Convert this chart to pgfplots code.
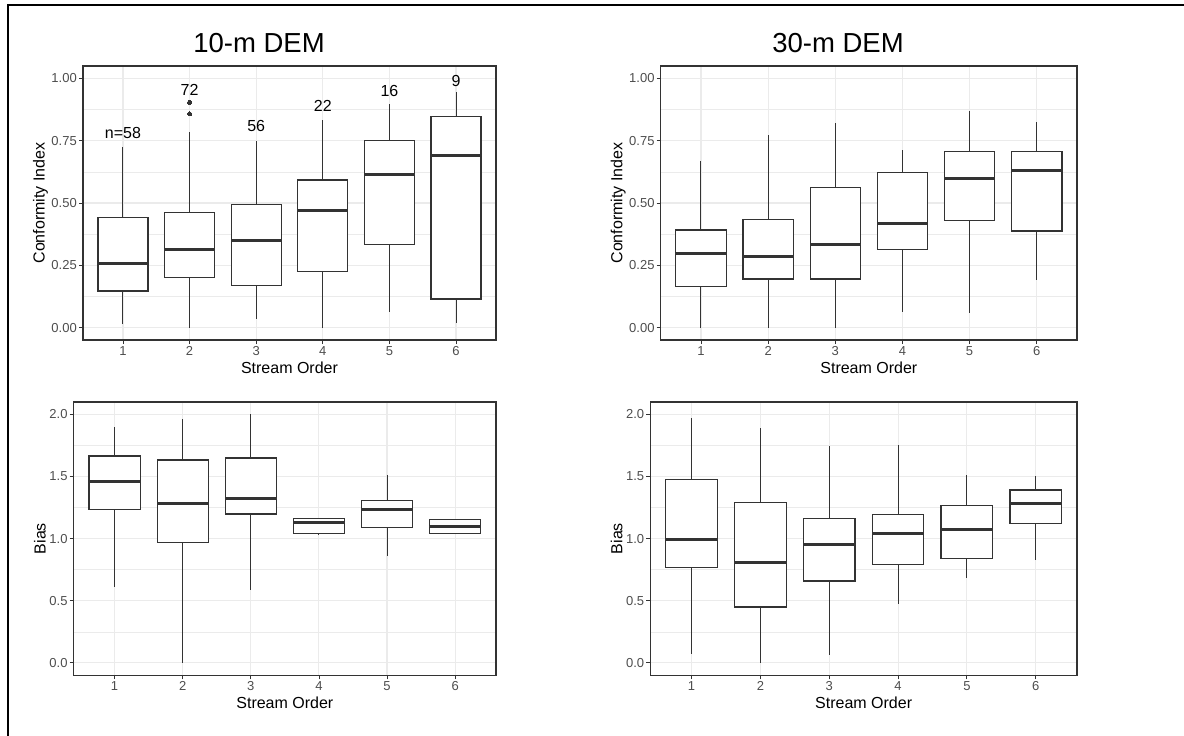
\documentclass[border=0pt]{standalone}
\usepackage{pgfplots}
\pgfplotsset{compat=1.18}
\usepgfplotslibrary{statistics}
\usepackage{fontspec}
\setmainfont{Liberation Sans}
\definecolor{gridc}{HTML}{EBEBEB}
\definecolor{boxc}{HTML}{333333}
\definecolor{tickc}{HTML}{4D4D4D}
\pgfplotsset{
  panel/.style={
    scale only axis,
    xmin=0.4, xmax=6.6,
    xtick={1,2,3,4,5,6},
    minor y tick num=1,
    xmajorgrids, ymajorgrids, yminorgrids,
    major grid style={gridc, line width=1.1pt},
    minor grid style={gridc, line width=0.6pt},
    tick pos=left, tick align=outside,
    major tick length=4pt, minor tick length=0pt,
    tick style={boxc, line width=0.8pt},
    axis line style={boxc, line width=1.2pt},
    /pgf/number format/assume math mode=true,
    ticklabel style={font=\fontsize{13}{13}\selectfont, text=tickc, inner sep=2pt},
    label style={font=\fontsize{16}{16}\selectfont},
    ylabel shift=-2pt,
    xlabel shift=1pt,
    xlabel={Stream Order},
    boxplot/draw direction=y,
    boxplot/box extend=0.75,
    boxplot/whisker extend=0,
    boxplot/every median/.style={line width=3pt},
    boxplot/every whisker/.style={line width=1pt},
    clip=false,
  },
  bx/.style={boxc, fill=white, line width=1.2pt, solid, mark=*, mark size=2pt, mark options={fill=boxc, draw=boxc, line width=0pt}},
}
\begin{document}
\begin{tikzpicture}
\path[use as bounding box] (0pt,0pt) rectangle (1184pt,-736pt);
\draw[black, line width=2pt] (7.5pt,-736pt) -- (7.5pt,-5pt) -- (1184pt,-5pt);
\node at (259pt,-43pt) {\fontsize{27.5}{27.5}\selectfont 10-m DEM};
\node at (838pt,-43pt) {\fontsize{27.5}{27.5}\selectfont 30-m DEM};

% Top left: 10-m Conformity Index
\begin{axis}[panel, at={(83pt,-340pt)}, anchor=south west, width=413pt, height=274pt,
  ymin=-0.05, ymax=1.05, ytick={0,0.25,0.5,0.75,1},
  yticklabel style={/pgf/number format/.cd, fixed, fixed zerofill, precision=2},
  ylabel={Conformity Index}]
\addplot[bx, boxplot prepared={lower whisker=0.013, lower quartile=0.147, median=0.258, upper quartile=0.442, upper whisker=0.726, draw position=1}] coordinates {};
\addplot[bx, boxplot prepared={lower whisker=0.0, lower quartile=0.202, median=0.312, upper quartile=0.463, upper whisker=0.784, draw position=2}] table[row sep=\\, y index=0] {v\\0.904\\0.858\\};
\addplot[bx, boxplot prepared={lower whisker=0.033, lower quartile=0.169, median=0.348, upper quartile=0.494, upper whisker=0.750, draw position=3}] coordinates {};
\addplot[bx, boxplot prepared={lower whisker=0.0, lower quartile=0.225, median=0.471, upper quartile=0.592, upper whisker=0.834, draw position=4}] coordinates {};
\addplot[bx, boxplot prepared={lower whisker=0.064, lower quartile=0.332, median=0.613, upper quartile=0.751, upper whisker=0.897, draw position=5}] coordinates {};
\addplot[bx, boxplot prepared={lower whisker=0.020, lower quartile=0.115, median=0.691, upper quartile=0.846, upper whisker=0.945, draw position=6}] coordinates {};
\node[font=\fontsize{16}{16}\selectfont] at (axis cs:1,0.782) {n=58};
\node[font=\fontsize{16}{16}\selectfont] at (axis cs:2,0.954) {72};
\node[font=\fontsize{16}{16}\selectfont] at (axis cs:3,0.811) {56};
\node[font=\fontsize{16}{16}\selectfont] at (axis cs:4,0.890) {22};
\node[font=\fontsize{16}{16}\selectfont] at (axis cs:5,0.948) {16};
\node[font=\fontsize{16}{16}\selectfont] at (axis cs:6,0.988) {9};
\end{axis}

% Top right: 30-m Conformity Index
\begin{axis}[panel, at={(660.7pt,-340pt)}, anchor=south west, width=416.3pt, height=274pt,
  ymin=-0.05, ymax=1.05, ytick={0,0.25,0.5,0.75,1},
  yticklabel style={/pgf/number format/.cd, fixed, fixed zerofill, precision=2},
  ylabel={Conformity Index}]
\addplot[bx, boxplot prepared={lower whisker=0.0, lower quartile=0.165, median=0.296, upper quartile=0.392, upper whisker=0.668, draw position=1}] coordinates {};
\addplot[bx, boxplot prepared={lower whisker=0.0, lower quartile=0.195, median=0.286, upper quartile=0.434, upper whisker=0.772, draw position=2}] coordinates {};
\addplot[bx, boxplot prepared={lower whisker=0.0, lower quartile=0.195, median=0.332, upper quartile=0.561, upper whisker=0.822, draw position=3}] coordinates {};
\addplot[bx, boxplot prepared={lower whisker=0.062, lower quartile=0.312, median=0.416, upper quartile=0.621, upper whisker=0.714, draw position=4}] coordinates {};
\addplot[bx, boxplot prepared={lower whisker=0.059, lower quartile=0.430, median=0.597, upper quartile=0.707, upper whisker=0.870, draw position=5}] coordinates {};
\addplot[bx, boxplot prepared={lower whisker=0.190, lower quartile=0.388, median=0.632, upper quartile=0.708, upper whisker=0.826, draw position=6}] coordinates {};
\end{axis}

% Bottom left: 10-m Bias
\begin{axis}[panel, at={(73.7pt,-675.3pt)}, anchor=south west, width=422.3pt, height=273.3pt,
  ymin=-0.1, ymax=2.1, ytick={0,0.5,1,1.5,2},
  yticklabel style={/pgf/number format/.cd, fixed, fixed zerofill, precision=1},
  ylabel={Bias}]
\addplot[bx, boxplot prepared={lower whisker=0.608, lower quartile=1.237, median=1.462, upper quartile=1.665, upper whisker=1.898, draw position=1}] coordinates {};
\addplot[bx, boxplot prepared={lower whisker=0.0, lower quartile=0.967, median=1.282, upper quartile=1.633, upper whisker=1.965, draw position=2}] coordinates {};
\addplot[bx, boxplot prepared={lower whisker=0.589, lower quartile=1.199, median=1.320, upper quartile=1.649, upper whisker=2.0, draw position=3}] coordinates {};
\addplot[bx, boxplot prepared={lower whisker=1.028, lower quartile=1.044, median=1.127, upper quartile=1.165, upper whisker=1.165, draw position=4}] coordinates {};
\addplot[bx, boxplot prepared={lower whisker=0.859, lower quartile=1.087, median=1.232, upper quartile=1.304, upper whisker=1.510, draw position=5}] coordinates {};
\addplot[bx, boxplot prepared={lower whisker=1.041, lower quartile=1.041, median=1.098, upper quartile=1.157, upper whisker=1.157, draw position=6}] coordinates {};
\end{axis}

% Bottom right: 30-m Bias
\begin{axis}[panel, at={(650.3pt,-675.3pt)}, anchor=south west, width=426.7pt, height=273.3pt,
  ymin=-0.1, ymax=2.1, ytick={0,0.5,1,1.5,2},
  yticklabel style={/pgf/number format/.cd, fixed, fixed zerofill, precision=1},
  ylabel={Bias}]
\addplot[bx, boxplot prepared={lower whisker=0.072, lower quartile=0.766, median=0.993, upper quartile=1.475, upper whisker=1.968, draw position=1}] coordinates {};
\addplot[bx, boxplot prepared={lower whisker=0.0, lower quartile=0.450, median=0.809, upper quartile=1.288, upper whisker=1.888, draw position=2}] coordinates {};
\addplot[bx, boxplot prepared={lower whisker=0.062, lower quartile=0.659, median=0.953, upper quartile=1.162, upper whisker=1.748, draw position=3}] coordinates {};
\addplot[bx, boxplot prepared={lower whisker=0.474, lower quartile=0.795, median=1.039, upper quartile=1.194, upper whisker=1.756, draw position=4}] coordinates {};
\addplot[bx, boxplot prepared={lower whisker=0.680, lower quartile=0.841, median=1.076, upper quartile=1.264, upper whisker=1.510, draw position=5}] coordinates {};
\addplot[bx, boxplot prepared={lower whisker=0.825, lower quartile=1.122, median=1.280, upper quartile=1.392, upper whisker=1.507, draw position=6}] coordinates {};
\end{axis}
\end{tikzpicture}
\end{document}
